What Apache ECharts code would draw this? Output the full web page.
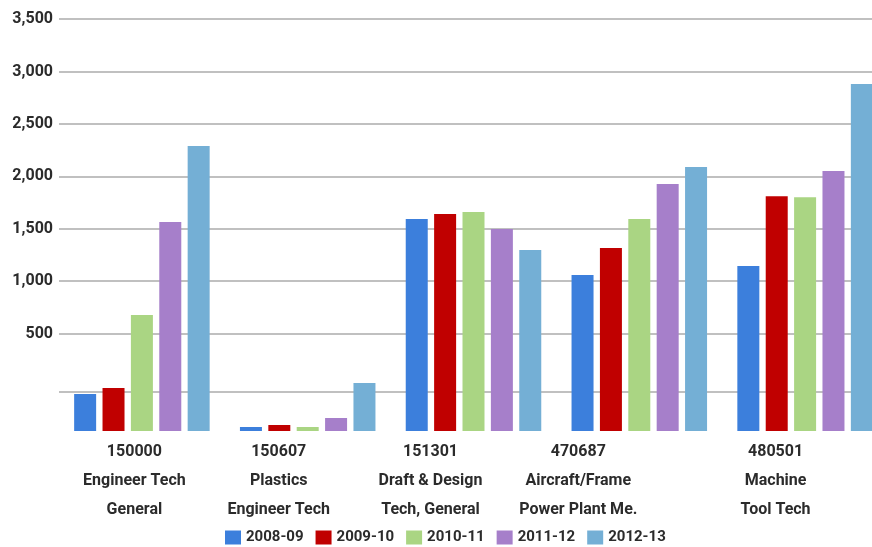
<!DOCTYPE html>
<html>
<head>
<meta charset="utf-8">
<script src="https://cdn.jsdelivr.net/npm/echarts@6/dist/echarts.min.js"></script>
<style>html,body{margin:0;padding:0;background:#fff}#c{width:872px;height:547px}</style>
</head>
<body>
<div id="c"></div>
<script>
const categories = ['150000\nEngineer Tech\nGeneral', '150607\nPlastics\nEngineer Tech', '151301\nDraft & Design\nTech, General', '470687\nAircraft/Frame\nPower Plant Me.', '480501\nMachine\nTool Tech'];
const seriesNames = ['2008-09', '2009-10', '2010-11', '2011-12', '2012-13'];
const v0809 = [-77, -392, 1593, 1058, 1144];
const v0910 = [-20, -373, 1640, 1316, 1810];
const v1011 = [677, -392, 1659, 1593, 1801];
const v1112 = [1564, -306, 1497, 1927, 2051];
const v1213 = [2289, 28, 1297, 2089, 2881];
const seriesValues = [v0809, v0910, v1011, v1112, v1213];

const colors = ['#3c7fdc', '#c00000', '#aad583', '#a67fca', '#74afd5'];
const labelShift = [15, 58, 86, 122, 59];
const font = "Roboto, sans-serif";
const gridColor = '#ababab';

const rich = {};
labelShift.forEach((s, i) => {
  rich['c' + i] = { fontFamily: font, fontWeight: 'bold', fontSize: 16, color: '#2b2b2b', lineHeight: 29, padding: [0, s, 0, 0], align: 'center' };
});

const chart = echarts.init(document.getElementById('c'));
chart.setOption({
  animation: false,
  color: colors,
  grid: { left: 59, width: 829, top: 19.2, bottom: 116, containLabel: false, outerBoundsMode: 'none' },
  legend: {
    data: seriesNames,
    left: 225, top: 530, padding: 0,
    itemWidth: 16, itemHeight: 14, itemGap: 12,
    icon: 'rect',
    textStyle: { fontFamily: font, fontWeight: 'bold', fontSize: 15, color: '#2b2b2b' }
  },
  xAxis: {
    type: 'category',
    data: categories,
    axisLine: { show: false },
    axisTick: { show: false },
    axisLabel: {
      interval: 0,
      margin: 6,
      formatter: (val, idx) => val.split('\n').map(l => '{c' + idx + '|' + l + '}').join('\n'),
      rich: rich
    }
  },
  yAxis: {
    type: 'value',
    min: -430, max: 3500, splitNumber: 8,
    startValue: -430,
    axisLine: { show: false },
    axisTick: { show: false },
    axisLabel: {
      margin: 6,
      fontFamily: font, fontWeight: 'bold', fontSize: 16, color: '#2b2b2b',
      formatter: v => v > 0 ? v.toString().replace(/\B(?=(\d{3})+(?!\d))/g, ',') : ''
    },
    splitLine: { lineStyle: { width: 1.5, color: ['rgba(0,0,0,0)', 'rgba(0,0,0,0)', gridColor, gridColor, gridColor, gridColor, gridColor, gridColor, gridColor, gridColor] } }
  },
  series: seriesNames.map((name, i) => ({
    name: name,
    type: 'bar',
    data: seriesValues[i],
    barWidth: 22,
    barGap: '29%',
    itemStyle: { color: colors[i] },
    markLine: i === 0 ? {
      silent: true, symbol: 'none', z: 1,
      label: { show: false },
      lineStyle: { type: 'solid', width: 1.5, color: gridColor },
      data: [{ yAxis: -58 }]
    } : undefined
  }))
});
</script>
</body>
</html>
